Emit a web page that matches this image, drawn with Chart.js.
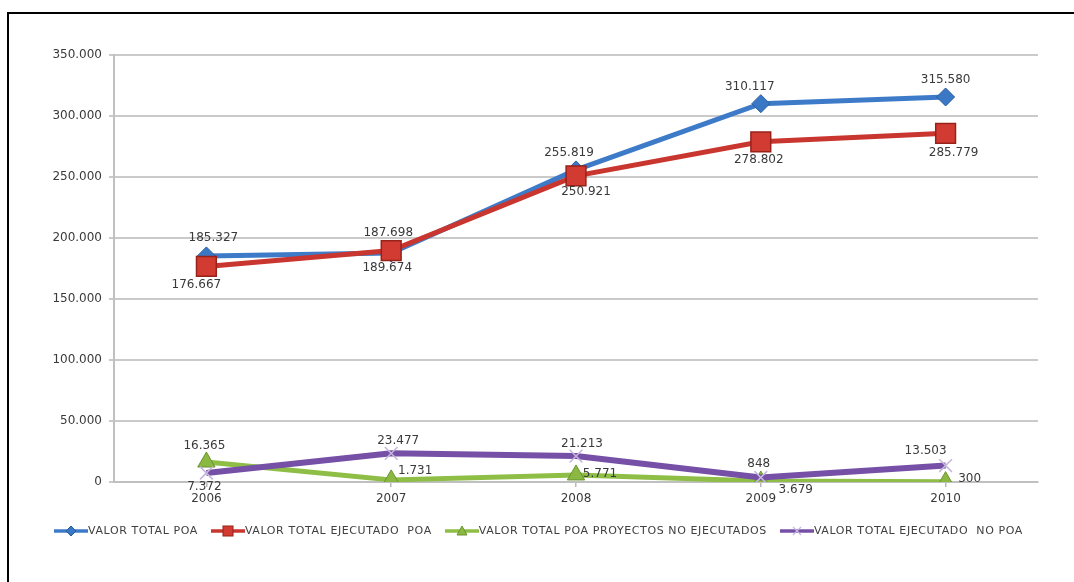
<!DOCTYPE html>
<html>
<head>
<meta charset="utf-8">
<script src="https://cdn.jsdelivr.net/npm/chart.js@4/dist/chart.umd.min.js"></script>
<style>
  html, body { margin:0; padding:0; background:#fff; overflow:hidden; }
  body { width:1074px; height:582px; position:relative; }
  #frameTop { position:absolute; left:7px; top:12px; width:1067px; height:2px; background:#000; }
  #frameLeft { position:absolute; left:7px; top:12px; width:2px; height:570px; background:#000; }
  #c { position:absolute; left:0; top:0; }
  #legend { position:absolute; left:54px; top:524px; display:flex; align-items:center; font-family:"DejaVu Sans", sans-serif; font-size:11px; letter-spacing:0.6px; color:#404040; white-space:pre; }
  .item { display:flex; align-items:center; margin-right:13px; }
  .item svg { display:block; }
</style>
</head>
<body>
<div id="frameTop"></div>
<div id="frameLeft"></div>
<canvas id="c" width="1074" height="582"></canvas>
<div id="legend"></div>
<script>
const categories = ['2006', '2007', '2008', '2009', '2010'];
const valorTotalPoa = [185327, 187698, 255819, 310117, 315580];
const valorTotalEjecutadoPoa = [176667, 189674, 250921, 278802, 285779];
const valorTotalPoaNoEjecutados = [16365, 1731, 5771, 848, 300];
const valorTotalEjecutadoNoPoa = [7372, 23477, 21213, 3679, 13503];
const seriesNames = ['VALOR TOTAL POA', 'VALOR TOTAL EJECUTADO  POA', 'VALOR TOTAL POA PROYECTOS NO EJECUTADOS', 'VALOR TOTAL EJECUTADO  NO POA'];
const yTickValues = [0, 50000, 100000, 150000, 200000, 250000, 300000, 350000];

const fmt = v => Math.round(v).toString().replace(/\B(?=(\d{3})+(?!\d))/g, '.');

const FONT = '"DejaVu Sans", sans-serif';

const valueLabels = {
  id: 'valueLabels',
  afterDatasetsDraw(chart) {
    const ctx = chart.ctx;
    ctx.save();
    ctx.font = '12px ' + FONT;
    ctx.fillStyle = '#3a3a3a';
    ctx.textAlign = 'center';
    ctx.textBaseline = 'middle';
    chart.data.datasets.forEach((ds, i) => {
      const meta = chart.getDatasetMeta(i);
      meta.data.forEach((pt, j) => {
        const off = ds.labelOffsets[j];
        ctx.fillText(fmt(ds.data[j]), pt.x + off[0], pt.y + off[1]);
      });
    });
    ctx.restore();
  }
};

const styles = [
  { line:'#3d7bc8', fill:'#3a78c6', border:'#2a5c9c', shape:'rectRot', r:9, w:5, pbw:1 },
  { line:'#c9362f', fill:'#d23b32', border:'#962219', shape:'rect', r:14, w:5, pbw:1.5 },
  { line:'#8fbe46', fill:'#8ab840', border:'#6a9430', shape:'triangle', r:10, w:5, pbw:1 },
  { line:'#7650a6', fill:'rgba(0,0,0,0)', border:'#c4b6dc', shape:'crossRot', r:9, w:6, pbw:1.5 }
];

const labelOffsets = [
  [[7,-18],[-3,-20],[-7,-17],[-11,-17],[0,-17]],
  [[-10,18],[-4,17],[10,16],[-2,18],[8,20]],
  [[-2,-16],[24,-9],[24,-1],[-2,-17],[24,-3]],
  [[-2,14],[7,-12],[6,-12],[35,12],[-20,-15]]
];

const seriesData = [valorTotalPoa, valorTotalEjecutadoPoa, valorTotalPoaNoEjecutados, valorTotalEjecutadoNoPoa];

const datasets = seriesData.map((d, i) => ({
  label: seriesNames[i],
  data: d,
  borderColor: styles[i].line,
  backgroundColor: styles[i].fill,
  borderWidth: styles[i].w,
  pointStyle: styles[i].shape,
  pointRadius: styles[i].r,
  pointBackgroundColor: styles[i].fill,
  pointBorderColor: styles[i].border,
  pointBorderWidth: styles[i].pbw,
  tension: 0,
  order: 4 - i,
  labelOffsets: labelOffsets[i]
}));

new Chart(document.getElementById('c'), {
  type: 'line',
  data: { labels: categories, datasets },
  plugins: [valueLabels],
  options: {
    responsive: false,
    animation: false,
    devicePixelRatio: 1,
    layout: { padding: { left: 0, right: 36, top: 55, bottom: 70 } },
    plugins: { legend: { display: false }, tooltip: { enabled: false } },
    scales: {
      x: {
        offset: true,
        grid: { display: true, drawOnChartArea: false, drawTicks: true, tickLength: 5, color: '#b8b8b8', lineWidth: 1.5 },
        border: { display: true, color: '#c0c0c0', width: 2 },
        ticks: { color: '#3a3a3a', font: { family: FONT, size: 12 }, padding: 5 },
        afterFit: s => { s.height = 30; }
      },
      y: {
        min: 0, max: 350000,
        afterBuildTicks: s => { s.ticks = yTickValues.map(v => ({ value: v })); },
        grid: { color: '#cacaca', lineWidth: 2, tickLength: 5 },
        border: { display: true, color: '#c0c0c0', width: 2 },
        ticks: { color: '#3a3a3a', font: { family: FONT, size: 12 }, padding: 7, callback: v => fmt(v) },
        afterFit: s => { s.width = 114; }
      }
    }
  }
});

// HTML legend
const legend = document.getElementById('legend');
function markerSvg(st) {
  const cx = 17, cy = 6;
  let m = '';
  if (st.shape === 'rectRot') m = `<polygon points="${cx},${cy-5} ${cx+5},${cy} ${cx},${cy+5} ${cx-5},${cy}" fill="${st.fill}" stroke="${st.border}" stroke-width="1"/>`;
  else if (st.shape === 'rect') m = `<rect x="${cx-5}" y="${cy-5}" width="10" height="10" fill="${st.fill}" stroke="${st.border}" stroke-width="1"/>`;
  else if (st.shape === 'triangle') m = `<polygon points="${cx},${cy-5} ${cx+5},${cy+4} ${cx-5},${cy+4}" fill="${st.fill}" stroke="${st.border}" stroke-width="1"/>`;
  else m = `<path d="M${cx-4},${cy-4}L${cx+4},${cy+4}M${cx+4},${cy-4}L${cx-4},${cy+4}" stroke="${st.border}" stroke-width="1.2"/>`;
  return `<svg width="34" height="12"><line x1="0" y1="${cy}" x2="34" y2="${cy}" stroke="${st.line}" stroke-width="3.5"/>${m}</svg>`;
}
seriesNames.forEach((n, i) => {
  const it = document.createElement('div');
  it.className = 'item';
  it.innerHTML = markerSvg(styles[i]) + `<span>${n}</span>`;
  legend.appendChild(it);
});
</script>
</body>
</html>
